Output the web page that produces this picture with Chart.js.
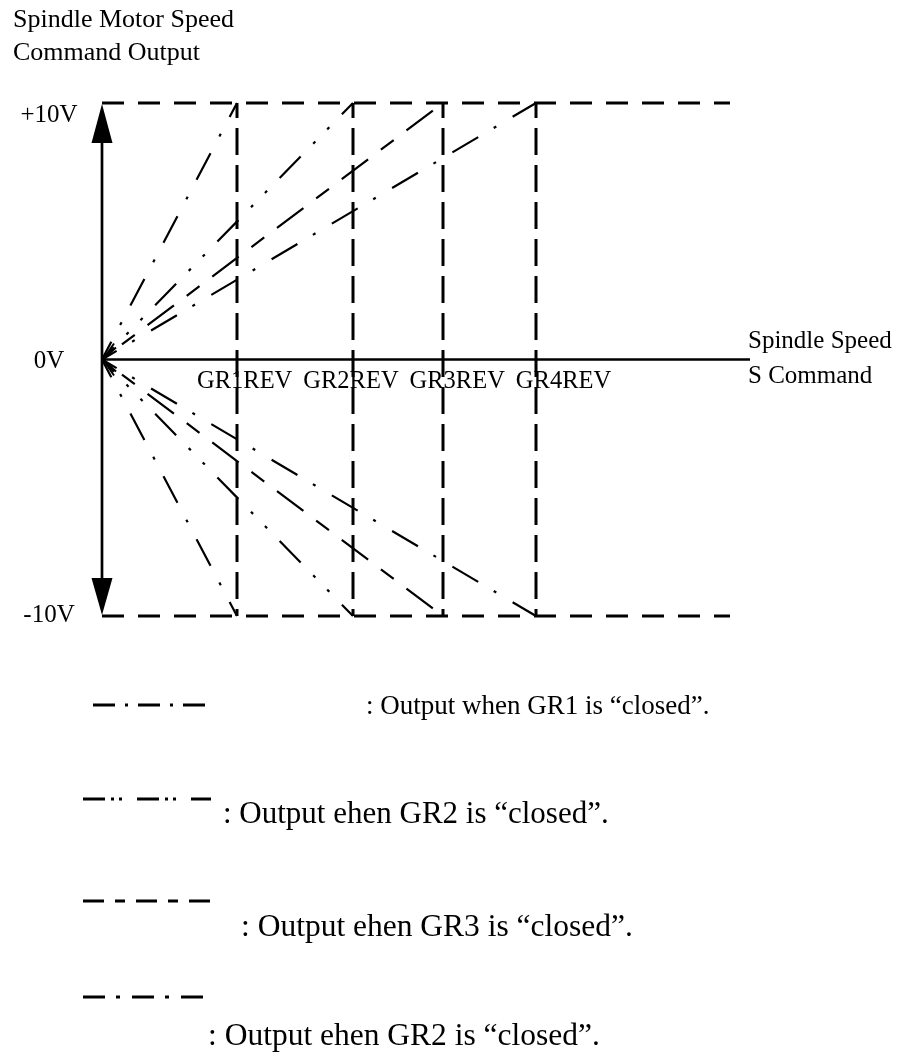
<!DOCTYPE html>
<html>
<head>
<meta charset="utf-8">
<title>Spindle Motor Speed Command Output</title>
<script src="https://cdn.jsdelivr.net/npm/chart.js@4.4.1/dist/chart.umd.min.js"></script>
<style>
  html, body { margin: 0; padding: 0; background: #fff; }
  #wrap { position: relative; width: 897px; height: 1057px; }
</style>
</head>
<body>
<div id="wrap"><canvas id="speedChart"></canvas></div>
<script>
// S command at which each gear's output reaches the +/-10V limit
const gears = ["GR1", "GR2", "GR3", "GR4"];
const gearMaxSpeed = [1350, 2510, 3410, 4340];
const outputLimits = [10, -10];
const limitLineEnd = 6280;
const speedAxisEnd = 6480;

const gearTickLabels = ["GR1REV", "GR2REV", "GR3REV", "GR4REV"];
const voltTickLabels = ["+10V", "0V", "-10V"];
const voltTickValues = [10, 0, -10];
const legendTexts = [
  ": Output when GR1 is \u201cclosed\u201d.",
  ": Output ehen GR2 is \u201cclosed\u201d.",
  ": Output ehen GR3 is \u201cclosed\u201d.",
  ": Output ehen GR2 is \u201cclosed\u201d."
];

const SERIF = '"Liberation Serif", "Times New Roman", serif';

// line style per gear: dash-dot, dash-dot-dot, long/short dash, dash-dot
const gearDash = [
  [30, 19, 3, 19],
  [30, 18, 3, 17, 3, 18],
  [33, 16, 16, 16],
  [30, 18, 3, 19]
];
const gearDashOffset = [10, 13, 24, 13];
const legendDash = [
  [22, 10, 3, 10],
  [22, 6, 3, 5, 3, 15],
  [21, 11, 10, 11],
  [22, 11, 4, 12]
];

const datasets = [];

// output ramps, one up and one down per gear
gears.forEach((g, i) => {
  outputLimits.forEach(v => {
    datasets.push({
      label: g + (v > 0 ? " +" : " -"),
      data: [{ x: 0, y: 0 }, { x: gearMaxSpeed[i], y: v }],
      borderColor: "#000",
      borderWidth: 2.2,
      borderDash: gearDash[i],
      borderDashOffset: gearDashOffset[i],
      pointRadius: 0,
      showLine: true,
      clip: false
    });
  });
});

// max speed marker for each gear
gears.forEach((g, i) => {
  datasets.push({
    label: g + " max",
    data: [{ x: gearMaxSpeed[i], y: outputLimits[0] }, { x: gearMaxSpeed[i], y: outputLimits[1] }],
    borderColor: "#000",
    borderWidth: 3,
    borderDash: [27, 10],
    borderDashOffset: 12,
    pointRadius: 0,
    showLine: true,
    clip: false
  });
});

// +10V / -10V limits
outputLimits.forEach(v => {
  datasets.push({
    label: "limit " + v,
    data: [{ x: 0, y: v }, { x: limitLineEnd, y: v }],
    borderColor: "#000",
    borderWidth: 3,
    borderDash: [22, 14],
    pointRadius: 0,
    showLine: true,
    clip: false
  });
});

function arrowHead(ctx, x, tipY, baseY, half) {
  ctx.beginPath();
  ctx.moveTo(x, tipY);
  ctx.lineTo(x - half, baseY);
  ctx.lineTo(x + half, baseY);
  ctx.closePath();
  ctx.fill();
}

const axesPlugin = {
  id: "axes",
  afterDatasetsDraw(chart) {
    const { ctx, scales: { x, y } } = chart;
    const x0 = x.getPixelForValue(0);
    const y0 = y.getPixelForValue(0);
    const yTop = y.getPixelForValue(outputLimits[0]);
    const yBot = y.getPixelForValue(outputLimits[1]);
    const xEnd = x.getPixelForValue(speedAxisEnd);

    ctx.save();
    ctx.strokeStyle = "#000";
    ctx.fillStyle = "#000";
    ctx.setLineDash([]);

    // axes
    ctx.lineWidth = 2.7;
    ctx.beginPath();
    ctx.moveTo(x0, yTop + 30);
    ctx.lineTo(x0, yBot - 30);
    ctx.moveTo(x0, y0);
    ctx.lineTo(xEnd, y0);
    ctx.stroke();

    arrowHead(ctx, x0, yTop + 1, yTop + 40, 10.5);
    arrowHead(ctx, x0, yBot - 1, yBot - 38, 10.5);

    // small open arrow at the origin
    ctx.lineWidth = 2;
    ctx.beginPath();
    [[12, -16], [14, -12], [12, 16], [14, 12]].forEach(([dx, dy]) => {
      ctx.moveTo(x0 + 1, y0);
      ctx.lineTo(x0 + dx, y0 + dy);
    });
    ctx.stroke();

    // voltage labels
    ctx.font = "25px " + SERIF;
    ctx.textAlign = "center";
    ctx.textBaseline = "alphabetic";
    const voltOffsets = [19, 8, 6];
    voltTickLabels.forEach((t, i) => {
      ctx.fillText(t, x0 - 53, y.getPixelForValue(voltTickValues[i]) + voltOffsets[i]);
    });

    // gear labels under the speed axis
    ctx.textAlign = "left";
    ctx.font = "24.5px " + SERIF;
    let lx = x.getPixelForValue(gearMaxSpeed[0]) - 40;
    gearTickLabels.forEach(t => {
      ctx.fillText(t, lx, y0 + 28);
      lx += ctx.measureText(t).width + 11;
    });

    // axis titles
    ctx.font = "25px " + SERIF;
    ctx.fillText("Spindle Speed", xEnd - 2, y0 - 12);
    ctx.fillText("S Command", xEnd - 2, y0 + 23);

    ctx.font = "26px " + SERIF;
    ctx.fillText("Spindle Motor Speed", 13, 27);
    ctx.fillText("Command Output", 13, 60);

    // line style key
    const rows = [
      { y: 705, x0: 93, tx: 366, ty: 714, size: 27 },
      { y: 799, x0: 83, tx: 223, ty: 823, size: 31 },
      { y: 901, x0: 83, tx: 241, ty: 936, size: 31.5 },
      { y: 997, x0: 83, tx: 208, ty: 1045, size: 31.5 }
    ];
    rows.forEach((r, i) => {
      ctx.lineWidth = 3;
      ctx.setLineDash(legendDash[i]);
      ctx.beginPath();
      ctx.moveTo(r.x0, r.y);
      ctx.lineTo(211, r.y);
      ctx.stroke();
      ctx.setLineDash([]);
      ctx.font = r.size + "px " + SERIF;
      ctx.fillText(legendTexts[i], r.tx, r.ty);
    });
    ctx.restore();
  }
};

new Chart(document.getElementById("speedChart"), {
  type: "scatter",
  data: { datasets },
  options: {
    responsive: true,
    maintainAspectRatio: false,
    animation: false,
    layout: { padding: { left: 102, right: 147, top: 103, bottom: 441 } },
    plugins: {
      legend: { display: false },
      tooltip: { enabled: false }
    },
    scales: {
      x: { type: "linear", min: 0, max: speedAxisEnd, display: false },
      y: { type: "linear", min: -10, max: 10, display: false }
    }
  },
  plugins: [axesPlugin]
});
</script>
</body>
</html>
